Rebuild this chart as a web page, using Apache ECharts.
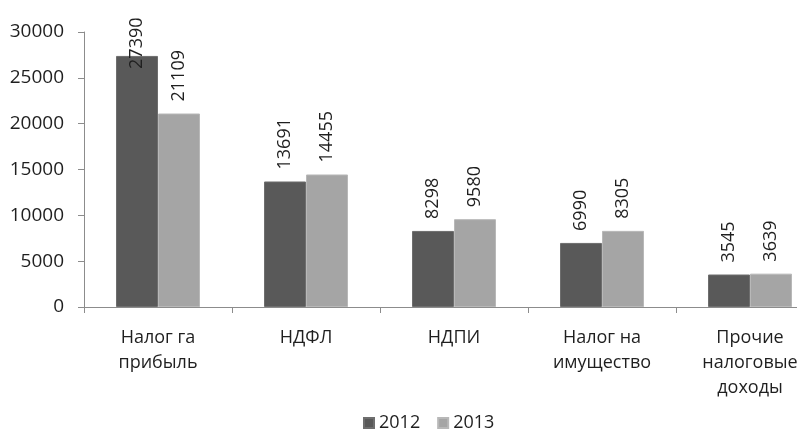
<!DOCTYPE html>
<html>
<head>
<meta charset="utf-8">
<script src="https://cdn.jsdelivr.net/npm/echarts@6/dist/echarts.min.js"></script>
<style>
  html, body { margin: 0; padding: 0; background: #fff; overflow: hidden; }
  #wrap { width: 797px; height: 439px; overflow: hidden; }
  /* the plot runs past the right edge; the wrapper crops it */
  #chart { width: 830px; height: 439px; }
</style>
</head>
<body>
<div id="wrap"><div id="chart"></div></div>
<script>
// Налоговые доходы по видам, 2012–2013
const categories = ['Налог га\nприбыль', 'НДФЛ', 'НДПИ', 'Налог на\nимущество', 'Прочие\nналоговые\nдоходы'];
const years = ['2012', '2013'];
const values2012 = [27390, 13691, 8298, 6990, 3545];
const values2013 = [21109, 14455, 9580, 8305, 3639];
const yTicks = { min: 0, max: 30000, interval: 5000 };

const FONT = '"Open Sans", "Noto Sans", sans-serif';
const TEXT = '#1f1f1f';

// Value label above the bar, turned 90°; a label that would run past the
// top of the plot is pulled down onto the bar instead.
function withLabels(values) {
  return values.map(v => {
    const item = { value: v };
    if (v > 26000) item.label = { distance: -13 };
    return item;
  });
}

const labelStyle = {
  show: true,
  position: 'top',
  rotate: 90,
  align: 'left',
  verticalAlign: 'middle',
  distance: 12,
  color: TEXT,
  fontFamily: FONT,
  fontSize: 18
};

const chart = echarts.init(document.getElementById('chart'));
chart.setOption({
  animation: false,
  textStyle: { fontFamily: FONT },
  grid: { left: 84, width: 740, top: 32, height: 275, containLabel: false },
  legend: {
    data: years,
    bottom: 2,
    left: 358,
    icon: 'rect',
    itemWidth: 10,
    itemHeight: 10,
    itemGap: 17,
    textStyle: { color: TEXT, fontFamily: FONT, fontSize: 18 }
  },
  xAxis: {
    type: 'category',
    data: categories,
    axisLine: { lineStyle: { color: '#8c8c8c' } },
    axisTick: { show: true, length: 6, lineStyle: { color: '#8c8c8c' } },
    axisLabel: {
      color: TEXT,
      fontFamily: FONT,
      fontSize: 18,
      lineHeight: 25,
      margin: 18,
      interval: 0
    }
  },
  yAxis: {
    type: 'value',
    min: yTicks.min,
    max: yTicks.max,
    interval: yTicks.interval,
    splitLine: { show: false },
    axisLine: { show: true, lineStyle: { color: '#8c8c8c' } },
    axisTick: { show: true, length: 6, lineStyle: { color: '#8c8c8c' } },
    axisLabel: {
      color: TEXT, fontFamily: FONT, fontSize: 19, margin: 20,
      formatter: v => String(v)
    }
  },
  series: [
    {
      name: years[0],
      type: 'bar',
      data: withLabels(values2012),
      barWidth: 42,
      barGap: '0%',
      itemStyle: { color: '#595959', borderColor: '#6e6e6e', borderWidth: 1 },
      label: labelStyle
    },
    {
      name: years[1],
      type: 'bar',
      data: withLabels(values2013),
      barWidth: 42,
      barGap: '0%',
      itemStyle: { color: '#a5a5a5', borderColor: '#b8b8b8', borderWidth: 1 },
      label: labelStyle
    }
  ]
});
</script>
</body>
</html>
